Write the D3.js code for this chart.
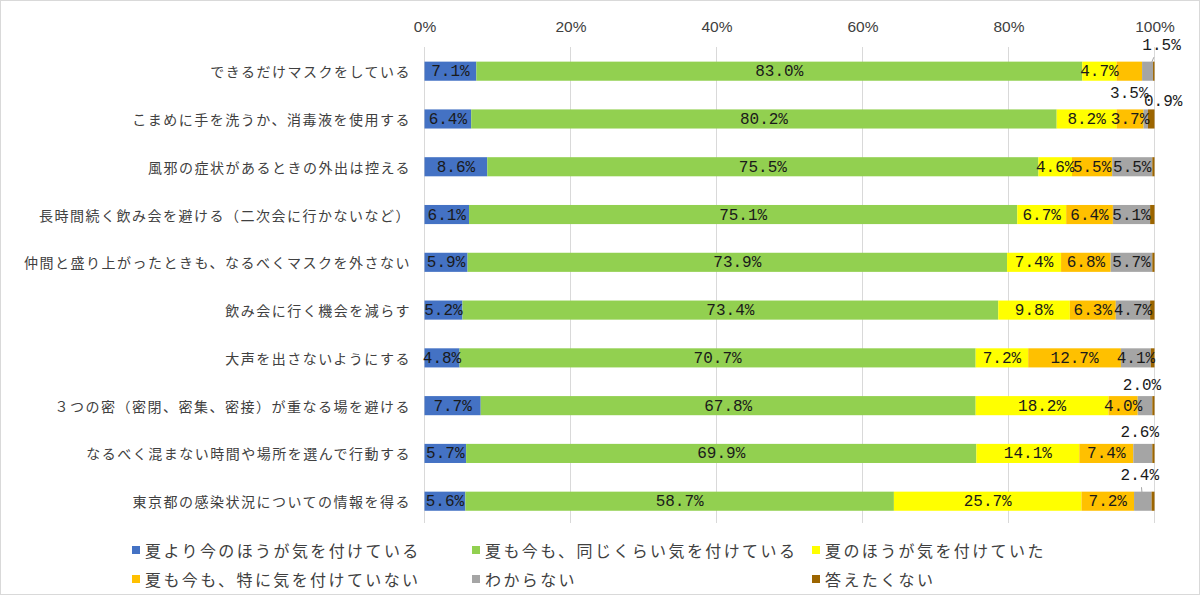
<!DOCTYPE html>
<html><head><meta charset="utf-8">
<script src="https://cdn.jsdelivr.net/npm/d3@7"></script>
<style>
html,body{margin:0;padding:0;background:#fff;}
svg{display:block;}
</style></head>
<body>
<svg id="chart" width="1200" height="595"></svg>
<script>
const categories = [
  "できるだけマスクをしている",
  "こまめに手を洗うか、消毒液を使用する",
  "風邪の症状があるときの外出は控える",
  "長時間続く飲み会を避ける（二次会に行かないなど）",
  "仲間と盛り上がったときも、なるべくマスクを外さない",
  "飲み会に行く機会を減らす",
  "大声を出さないようにする",
  "３つの密（密閉、密集、密接）が重なる場を避ける",
  "なるべく混まない時間や場所を選んで行動する",
  "東京都の感染状況についての情報を得る"
];
const seriesNames = [
  "夏より今のほうが気を付けている",
  "夏も今も、同じくらい気を付けている",
  "夏のほうが気を付けていた",
  "夏も今も、特に気を付けていない",
  "わからない",
  "答えたくない"
];
const moreNow   = [7.1, 6.4, 8.6, 6.1, 5.9, 5.2, 4.8, 7.7, 5.7, 5.6];
const same      = [83.0, 80.2, 75.5, 75.1, 73.9, 73.4, 70.7, 67.8, 69.9, 58.7];
const moreSummer= [4.7, 8.2, 4.6, 6.7, 7.4, 9.8, 7.2, 18.2, 14.1, 25.7];
const notCareful= [3.5, 3.7, 5.5, 6.4, 6.8, 6.3, 12.7, 4.0, 7.4, 7.2];
const unknown   = [1.5, 0.6, 5.5, 5.1, 5.7, 4.7, 4.1, 2.0, 2.6, 2.4];
const noAnswer  = [0.2, 0.9, 0.3, 0.6, 0.3, 0.6, 0.5, 0.3, 0.3, 0.4];
const tickValues = [0, 20, 40, 60, 80, 100];

const seriesValues = [moreNow, same, moreSummer, notCareful, unknown, noAnswer];
const colors = ["#4472C4", "#92D050", "#FFFF00", "#FFC000", "#A5A5A5", "#9C6500"];

// labels placed outside their segment: [row, series, dx, dy, leader]
const outsideLabels = [
  [0, 3, 0, 22, false],
  [0, 4, 14, -26, true],
  [1, 5, 12, -18, false],
  [7, 4, -3, -21, false],
  [8, 4, -3, -21, false],
  [9, 4, -3, -26, true]
];

const svg = d3.select("#chart");
svg.append("rect").attr("x",0.5).attr("y",0.5).attr("width",1199).attr("height",594)
  .attr("fill","#fff").attr("stroke","#d9d9d9");

const x = d3.scaleLinear().domain([0,100]).range([424.5,1154.5]);
const y = d3.scaleBand().domain(categories).range([47.3,525.1]).paddingInner(0.6).paddingOuter(0.3);

// gridlines
svg.append("g").selectAll("line").data(tickValues).join("line")
  .attr("x1",d=>x(d)).attr("x2",d=>x(d)).attr("y1",47).attr("y2",523)
  .attr("stroke","#d9d9d9").attr("stroke-width",1);

// top axis
const axis = d3.axisTop(x).tickValues(tickValues).tickFormat(d=>d+"%").tickSize(0).tickPadding(0);
const ag = svg.append("g").attr("transform","translate(0,32)").call(axis);
ag.select(".domain").remove();
ag.selectAll("text").attr("font-family","'Liberation Sans', Arial, sans-serif")
  .attr("font-size",15.5).attr("fill","#404040").attr("dy",0);

// stacked data
const rows = categories.map((c,i)=>{
  let acc = 0;
  return seriesValues.map((arr,s)=>{
    const seg = {row:i, cat:c, s, v:arr[i], x0:acc, x1:acc+arr[i]};
    acc += arr[i];
    return seg;
  });
});
const segs = rows.flat();

svg.append("g").selectAll("rect").data(segs).join("rect")
  .attr("x",d=>x(d.x0)).attr("width",d=>x(d.x1)-x(d.x0))
  .attr("y",d=>y(d.cat)).attr("height",y.bandwidth())
  .attr("fill",d=>colors[d.s]);

// category labels
svg.append("g").selectAll("text").data(categories).join("text")
  .attr("x",411).attr("y",d=>y(d)+y.bandwidth()/2)
  .attr("dominant-baseline","central").attr("text-anchor","end")
  .attr("font-family","'Noto Sans CJK JP', sans-serif").attr("font-size",14)
  .attr("letter-spacing","1.5px").attr("fill","#404040").text(d=>d);

// data labels
const lblFont = "'Liberation Mono', 'DejaVu Sans Mono', monospace";
const outsideKey = new Map(outsideLabels.map(o=>[o[0]+"-"+o[1], o]));
const inside = segs.filter(d=>d.v>=3.7 && !outsideKey.has(d.row+"-"+d.s));
svg.append("g").selectAll("text").data(inside).join("text")
  .attr("x",d=>x((d.x0+d.x1)/2)).attr("y",d=>y(d.cat)+y.bandwidth()/2+1)
  .attr("dominant-baseline","central").attr("text-anchor","middle")
  .attr("font-family",lblFont).attr("font-size",16).attr("fill","#1a1a1a")
  .text(d=>d.v.toFixed(1)+"%");

const outs = outsideLabels.map(o=>{
  const d = rows[o[0]][o[1]];
  return {d, dx:o[2], dy:o[3], leader:o[4]};
});
const og = svg.append("g");
outs.forEach(o=>{
  const cx = x((o.d.x0+o.d.x1)/2), cy = y(o.d.cat)+y.bandwidth()/2;
  if(o.leader){
    og.append("line").attr("x1",cx+o.dx*0.45).attr("y1",cy+o.dy+12)
      .attr("x2",cx).attr("y2",cy+1)
      .attr("stroke","#a6a6a6").attr("stroke-width",1);
  }
  og.append("text").attr("x",cx+o.dx).attr("y",cy+o.dy+1)
    .attr("dominant-baseline","central").attr("text-anchor","middle")
    .attr("font-family",lblFont).attr("font-size",16).attr("fill","#1a1a1a")
    .text(o.d.v.toFixed(1)+"%");
});

// legend
const legendPos = [[132,550],[472,550],[812,550],[132,579],[472,579],[812,579]];
const lg = svg.append("g").selectAll("g").data(seriesNames).join("g")
  .attr("transform",(d,i)=>`translate(${legendPos[i][0]},${legendPos[i][1]})`);
lg.append("rect").attr("x",0).attr("y",-4).attr("width",8).attr("height",8)
  .attr("fill",(d,i)=>colors[i]);
lg.append("text").attr("x",13).attr("y",0).attr("dominant-baseline","central")
  .attr("font-family","'Noto Sans CJK JP', sans-serif").attr("font-size",16)
  .attr("letter-spacing","2.4px").attr("fill","#404040").text(d=>d);
</script>
</body></html>
